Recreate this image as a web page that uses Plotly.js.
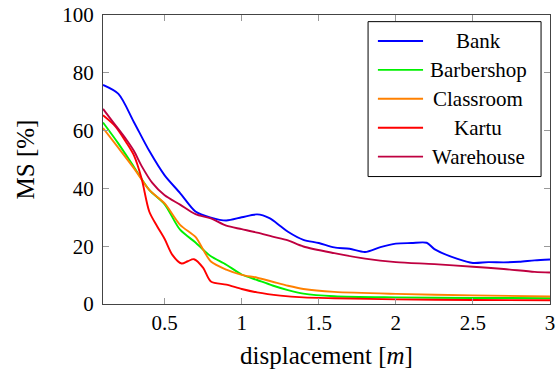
<!DOCTYPE html>
<html><head><meta charset="utf-8">
<script src="https://cdn.plot.ly/plotly-3.0.1.min.js"></script>
<style>html,body{margin:0;padding:0;background:#fff}#chart{width:560px;height:371px}</style>
</head><body><div id="chart"></div>
<script>
const seriesNames = ["Bank","Barbershop","Classroom","Kartu","Warehouse"];
const seriesColors = ["#0000ff","#00f000","#ff8000","#ff0000","#bf0040"];

const bankX = [0.1,0.2,0.3,0.4,0.5,0.6,0.7,0.8,0.9,1.0,1.1,1.18,1.25,1.3,1.4,1.5,1.6,1.7,1.8,1.9,2.0,2.1,2.2,2.25,2.4,2.5,2.6,2.7,2.8,2.9,3.0];
const bankY = [75.8,72.7,63,53,44.5,38.4,32,29.9,28.9,30,31,29.7,27,25,22.2,21.1,19.6,19.1,18.0,19.7,20.9,21.1,21.2,19,15.6,14.2,14.5,14.4,14.6,15.1,15.4];

const barberX = [0.1,0.2,0.3,0.4,0.5,0.6,0.7,0.75,0.8,0.9,1.0,1.1,1.2,1.3,1.4,1.6,2.0,2.5,3.0];
const barberY = [62.8,55.5,47.5,39.5,34.5,25.7,21.3,18.8,16.5,13.6,10.2,8.3,6.4,4.8,3.6,2.7,2.3,2.1,2.0];

const classX = [0.1,0.2,0.3,0.4,0.5,0.6,0.7,0.75,0.8,0.9,1.0,1.1,1.2,1.3,1.4,1.6,2.0,2.5,3.0];
const classY = [60.9,54,47,39.5,34.8,27.4,23.2,18.8,14.7,11.9,10.1,9.1,7.7,6.3,5.2,4.2,3.5,3.0,2.6];

const kartuX = [0.1,0.18,0.25,0.3,0.35,0.4,0.45,0.5,0.55,0.61,0.65,0.69,0.75,0.8,0.9,1.0,1.1,1.25,1.4,1.6,2.0,2.5,3.0];
const kartuY = [65.3,61.5,56,51.5,43.5,32,27,22.5,17,14,14.8,15.5,12.5,7.8,6.7,5.2,4,2.9,2.3,2.0,1.6,1.4,1.3];

const wareX = [0.1,0.17,0.25,0.3,0.35,0.42,0.5,0.6,0.7,0.8,0.9,1.0,1.1,1.2,1.3,1.4,1.6,1.8,2.0,2.25,2.5,2.7,2.9,3.0];
const wareY = [67.5,62.6,57,53,47.8,41.9,37.6,34.4,31.1,29.6,27.1,25.9,24.7,23.3,22,19.9,17.6,15.7,14.5,13.8,12.9,12.1,11.1,10.9];

const xTickVals = [0.5,1,1.5,2,2.5,3];
const xTickText = ["0.5","1","1.5","2","2.5","3"];
const yTickVals = [0,20,40,60,80,100];

const xs = [bankX,barberX,classX,kartuX,wareX];
const ys = [bankY,barberY,classY,kartuY,wareY];

const traces = seriesNames.map((n,i)=>({
  x: xs[i], y: ys[i], name: n, type:'scatter', mode:'lines', showlegend:false,
  line:{color:seriesColors[i], width:1.9, shape:'spline', smoothing:0.8}
}));

const font = "Liberation Serif";

// Custom legend (centered labels, as in the reference)
const legBox = {x0:0.593, x1:0.980, y0:0.441, y1:0.977};
const rowTop = 0.910, rowStep = 0.100;
const shapes = [{type:'rect', xref:'paper', yref:'paper', x0:legBox.x0, x1:legBox.x1, y0:legBox.y0, y1:legBox.y1,
  line:{color:'#000', width:1}, fillcolor:'#fff', layer:'above'}];
const annotations = [];
seriesNames.forEach((n,i)=>{
  const yy = rowTop - i*rowStep;
  shapes.push({type:'line', xref:'paper', yref:'paper', x0:0.615, x1:0.716, y0:yy, y1:yy,
    line:{color:seriesColors[i], width:1.9}, layer:'above'});
  annotations.push({xref:'paper', yref:'paper', x:0.839, y:yy, xanchor:'center', yanchor:'middle',
    text:n, showarrow:false, font:{family:font, size:21, color:'#000'}});
});

const axisCommon = {
  showgrid:false, zeroline:false, showline:true, linecolor:'#444', linewidth:1,
  mirror:'ticks', ticks:'inside', ticklen:6, tickcolor:'#999', tickwidth:1,
  tickfont:{family:font,size:21,color:'#000'}
};

const layout = {
  width:560, height:371,
  margin:{l:103,r:10,t:15,b:67},
  paper_bgcolor:'#fff', plot_bgcolor:'#fff',
  font:{family:font,color:'#000'},
  xaxis:Object.assign({}, axisCommon, {
    range:[0.1,3], tickvals:xTickVals, ticktext:xTickText,
    title:{text:'displacement [<i>m</i>]', font:{family:font,size:25,color:'#000'}, standoff:12}
  }),
  yaxis:Object.assign({}, axisCommon, {
    range:[0,100], tickvals:yTickVals, ticklabelstandoff:4,
    title:{text:'MS [%]', font:{family:font,size:25,color:'#000'}, standoff:20}
  }),
  showlegend:false,
  shapes: shapes,
  annotations: annotations
};

Plotly.newPlot('chart', traces, layout, {staticPlot:true, displayModeBar:false});
</script>
</body></html>
